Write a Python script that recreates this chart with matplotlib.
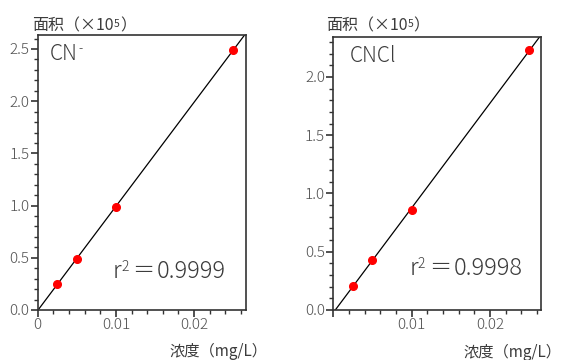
import numpy as np
import matplotlib
matplotlib.use('Agg')
import matplotlib.pyplot as plt
import matplotlib.transforms as mtransforms
from matplotlib.ticker import MultipleLocator, FuncFormatter

plt.rcParams['font.family'] = ['Noto Sans CJK JP', 'DejaVu Sans']
plt.rcParams['font.weight'] = 'light'

# Data (concentration mg/L, area x10^5)
conc = [0.0025, 0.005, 0.01, 0.025]
cn_area = [0.25, 0.49, 0.99, 2.49]
cncl_area = [0.21, 0.43, 0.86, 2.23]
names = ['CN', 'CNCl']
r2_text = ['0.9999', '0.9998']
x_ticks = [0, 0.01, 0.02]

TXT = '#3c3c3c'
fig = plt.figure(figsize=(5.61, 3.6), dpi=100)

ax1 = fig.add_axes([0.0672, 0.1389, 0.3708, 0.7639])
ax2 = fig.add_axes([0.5941, 0.1389, 0.3702, 0.7592])


def style(ax, ylim_top, xlim_top, show_zero):
    ax.set_xlim(0, xlim_top)
    ax.set_ylim(0, ylim_top)
    ax.set_xticks(x_ticks)
    ax.xaxis.set_minor_locator(MultipleLocator(0.002))
    ax.yaxis.set_major_locator(MultipleLocator(0.5))
    ax.yaxis.set_minor_locator(MultipleLocator(0.1))
    ax.yaxis.set_major_formatter(FuncFormatter(lambda v, p: f'{v:.1f}'))
    ax.xaxis.set_major_formatter(FuncFormatter(
        lambda v, p: ('0' if show_zero else '') if abs(v) < 1e-9 else f'{v:g}'))
    ax.tick_params(which='major', direction='out', length=5, width=1.2,
                   color='#333333', labelsize=11, labelcolor='#505050', pad=1)
    ax.tick_params(which='minor', direction='out', length=3, width=1,
                   color='#333333')
    for s in ax.spines.values():
        s.set_color('#333333')
        s.set_linewidth(1.2)


def shifted(ax, dx, dy):
    return mtransforms.offset_copy(ax.transAxes, fig=fig, x=dx, y=dy, units='dots')


for ax, area, name, r2, ytop, xtop, zero, tx, rx, ry in [
        (ax1, cn_area, 'CN', r2_text[0], 2.634, 0.0266, True, 0.06, 0.362, 0.116),
        (ax2, cncl_area, 'CNCl', r2_text[1], 2.346, 0.0265, False, 0.077, 0.369, 0.128)]:
    style(ax, ytop, xtop, zero)
    k, b = np.polyfit(conc, area, 1)
    xx = np.array([0, xtop])
    ax.plot(xx, k * xx + b, color='black', lw=0.9, zorder=2)
    ax.plot(conc, area, 'o', color='red', ms=5.5, mec='red', zorder=3)

    t = ax.text(tx, 0.97, name, transform=ax.transAxes, fontsize=15,
                color=TXT, va='top', ha='left')
    if name == 'CN':
        ax.annotate('-', xy=(1, 1), xycoords=t, fontsize=9, color=TXT,
                    va='top', ha='left', xytext=(0, 1), textcoords='offset points')

    # r^2 = value, pieces placed relative to the 'r'
    ax.text(rx, ry, 'r', transform=ax.transAxes, fontsize=17,
            color=TXT, va='baseline', ha='left')
    ax.text(rx, ry, '2', transform=shifted(ax, 8, 7), fontsize=10,
            color=TXT, va='baseline', ha='left')
    ax.text(rx, ry, '＝', transform=shifted(ax, 19, 1), fontsize=16,
            color=TXT, va='baseline', ha='left')
    ax.text(rx, ry, r2, transform=shifted(ax, 44, 0), fontsize=17,
            color=TXT, va='baseline', ha='left')

# axis titles
for x0 in [0.058, 0.582]:
    t = fig.text(x0, 0.903, '面积（×10', fontsize=11.5, color=TXT,
                 va='bottom', ha='left', fontweight='normal')
    s5 = ax1.annotate('5', xy=(1, 0.92), xycoords=t, fontsize=7.5,
                      color=TXT, va='top', ha='left', annotation_clip=False,
                      fontweight='normal')
    ax1.annotate('）', xy=(1, 0), xycoords=(s5, t), fontsize=11.5, color=TXT,
                 va='bottom', ha='left', annotation_clip=False,
                 fontweight='normal')

fig.text(0.476, 0.0, '浓度（mg/L）', fontsize=11, color=TXT, va='bottom',
         ha='right', fontweight='normal')
fig.text(1.0, -0.002, '浓度（mg/L）', fontsize=11, color=TXT, va='bottom',
         ha='right', fontweight='normal')

fig.savefig('out.png', dpi=100)
